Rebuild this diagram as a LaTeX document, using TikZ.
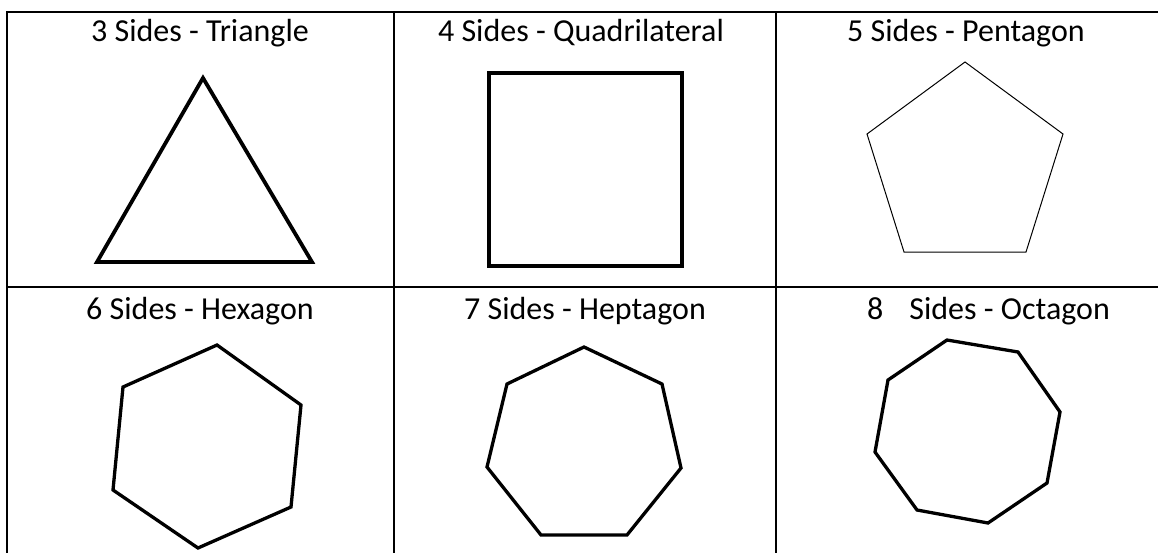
\documentclass[tikz,border=0pt]{standalone}
\usepackage{fontspec}
\setmainfont{Carlito}
\usetikzlibrary{positioning}

\begin{document}
\begin{tikzpicture}[x=1pt, y=-1pt]
    \tikzstyle{tableline} = [line width=2pt, line cap=rect]
    \tikzstyle{heading}   = [anchor=base, inner sep=0pt, font=\fontsize{32}{38}\selectfont]
    \tikzstyle{outline}   = [line width=3.3pt, line join=miter]

    \useasboundingbox (0,0) rectangle (1158,552);
    \clip (0,0) rectangle (1158,552);

    % Table lines
    \draw [tableline] (7,600) -- (7,12) -- (1170,12);
    \draw [tableline] (7,287) -- (1170,287);
    \draw [tableline] (394,12) -- (394,600);
    \draw [tableline] (776,12) -- (776,600);

    % Headings
    \node [heading] (tri)  at (200,41)  {3 Sides - Triangle};
    \node [heading] (quad) at (581,41)  {4 Sides - Quadrilateral};
    \node [heading] (pent) at (966,41)  {5 Sides - Pentagon};
    \node [heading] (hexa) at (200,319) {6 Sides - Hexagon};
    \node [heading] (hept) at (585,319) {7 Sides - Heptagon};
    \node [heading, anchor=base west] (octa) at (867,319) {8\hspace{26pt}Sides - Octagon};

    % Polygons
    \draw [outline, line width=3.8pt] (203,78) -- (312,262) -- (97,262) -- cycle;
    \draw [outline, line width=4.8pt] (489,73) rectangle (682,266);
    \draw [line width=1pt] (965,62) -- (1063,134) -- (1026,252) -- (904,252) -- (867,134) -- cycle;
    \draw [outline] (217,345) -- (301,405) -- (291,507) -- (198,548) -- (113,490) -- (123,387) -- cycle;
    \draw [outline] (584,347) -- (662,384) -- (681,468) -- (627,535) -- (541,535) -- (487,467) -- (507,384) -- cycle;
    \draw [outline] (947,340) -- (1018,352) -- (1060,412) -- (1047,483) -- (988,523) -- (917,510) -- (875,452) -- (888,380) -- cycle;
\end{tikzpicture}
\end{document}
